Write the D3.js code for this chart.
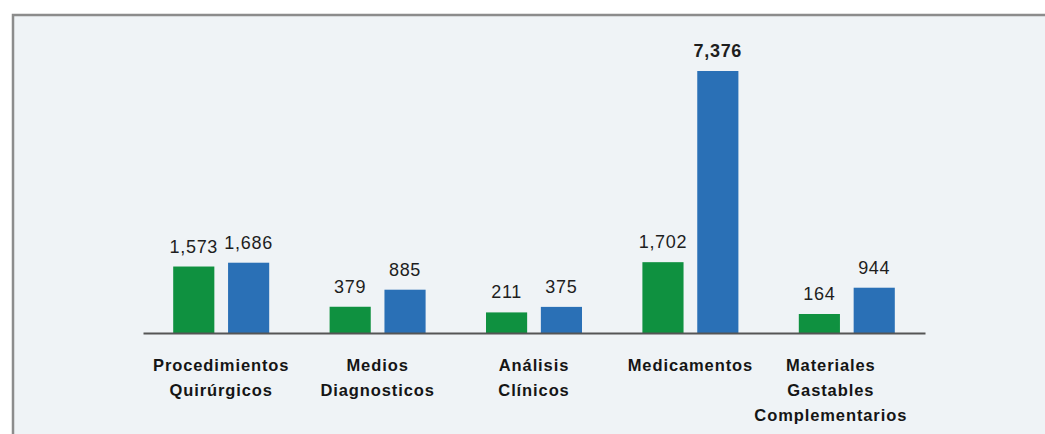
<!DOCTYPE html>
<html>
<head>
<meta charset="utf-8">
<script src="https://cdn.jsdelivr.net/npm/d3@7"></script>
<style>
  html, body { margin: 0; padding: 0; background: #ffffff; }
  svg { display: block; }
</style>
</head>
<body>
<div id="chart"></div>
<script>
const categories = [
  "Procedimientos Quirúrgicos",
  "Medios Diagnosticos",
  "Análisis Clínicos",
  "Medicamentos",
  "Materiales Gastables Complementarios"
];
const categoryLines = [
  ["Procedimientos", "Quirúrgicos"],
  ["Medios", "Diagnosticos"],
  ["Análisis", "Clínicos"],
  ["Medicamentos"],
  ["Materiales", "Gastables", "Complementarios"]
];
const seriesNames = ["Serie 1", "Serie 2"];
const series1 = [1573, 379, 211, 1702, 164];
const series2 = [1686, 885, 375, 7376, 944];

const W = 1045, H = 434;
const colors = ["#0f9140", "#2a70b6"];

const svg = d3.select("#chart").append("svg")
  .attr("width", W).attr("height", H);

// panel background and frame
svg.append("rect")
  .attr("x", 13).attr("y", 15)
  .attr("width", W + 20).attr("height", H)
  .attr("fill", "#eff3f6")
  .attr("stroke", "#8c8c8c")
  .attr("stroke-width", 2.5);

const x0 = d3.scaleBand().domain(categories).range([143, 925]).padding(0);
const x1 = d3.scaleBand().domain(seriesNames).range([-48, 48]).paddingInner(0.25);
const y = d3.scaleLinear().domain([-400, 7376]).range([333, 71]);

const data = categories.map((c, i) => ({
  cat: c,
  vals: [
    { s: seriesNames[0], v: series1[i], ci: 0, bold: false },
    { s: seriesNames[1], v: series2[i], ci: 1, bold: series2[i] === d3.max(series2) }
  ]
}));

const fmt = d3.format(",");

const g = svg.append("g");
const groups = g.selectAll("g.grp").data(data).join("g")
  .attr("class", "grp")
  .attr("transform", d => `translate(${x0(d.cat) + x0.bandwidth() / 2},0)`);

groups.selectAll("rect").data(d => d.vals).join("rect")
  .attr("x", d => x1(d.s))
  .attr("width", x1.bandwidth())
  .attr("y", d => y(d.v))
  .attr("height", d => y(-400) - y(d.v))
  .attr("fill", d => colors[d.ci]);

groups.selectAll("text.val").data(d => d.vals).join("text")
  .attr("class", "val")
  .attr("x", d => x1(d.s) + x1.bandwidth() / 2)
  .attr("y", d => y(d.v) - 14)
  .attr("text-anchor", "middle")
  .attr("font-family", "Liberation Sans, Arial, sans-serif")
  .attr("font-size", 18)
  .attr("letter-spacing", 0.7)
  .attr("font-weight", d => d.bold ? "bold" : "normal")
  .attr("fill", "#1e1e1e")
  .text(d => fmt(d.v));

// baseline axis
const xAxis = d3.axisBottom(x0).tickSize(0).tickFormat("");
const ax = svg.append("g").attr("transform", `translate(0,${y(-400)})`).call(xAxis);
ax.select(".domain").attr("stroke", "#555").attr("stroke-width", 2);

// category labels
groups.each(function(d, i) {
  const t = d3.select(this).append("text")
    .attr("text-anchor", "middle")
    .attr("font-family", "Liberation Sans, Arial, sans-serif")
    .attr("font-size", 16.5)
    .attr("letter-spacing", 0.9)
    .attr("font-weight", "bold")
    .attr("fill", "#151515");
  categoryLines[i].forEach((ln, j) => {
    t.append("tspan").attr("x", i === 4 ? -16 : 0).attr("y", 371 + j * 25).text(ln);
  });
});
</script>
</body>
</html>
